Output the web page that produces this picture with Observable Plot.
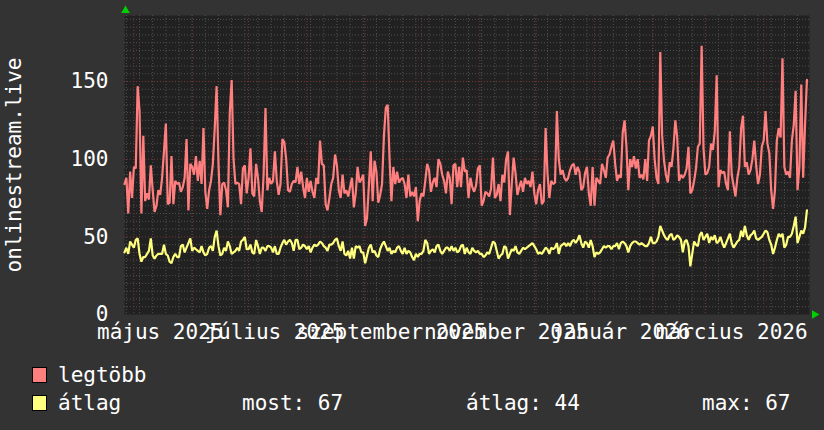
<!DOCTYPE html>
<html><head><meta charset="utf-8">
<script src="https://cdn.jsdelivr.net/npm/d3@7"></script>
<script src="https://cdn.jsdelivr.net/npm/@observablehq/plot@0.6"></script>
<style>
html,body{margin:0;padding:0;background:#333;}
#chart{position:relative;width:824px;height:430px;background:#333;font-family:"DejaVu Sans Mono",monospace;color:#fff;overflow:hidden}
#chart svg{display:block}
.leg{position:absolute;font-size:21px;line-height:21px;white-space:pre;color:#fff}
.sw{position:absolute;width:13px;height:14px;border:1px solid #000}
</style></head><body><div id="chart"></div>
<script>
// ---- data ----
const startDate = "2025-04-26";
const endDate = "2026-04-25T09:00Z";
const maxValues = [
84,88,65,92,75,95,94,147,131,65,115,73,78,74,96,80,66,70,80,77,
88,105,123,71,72,102,71,86,84,85,79,82,88,113,67,97,95,90,102,86,
99,84,120,79,68,80,86,97,120,147,97,64,84,85,80,69,130,151,100,84,
85,84,
71,94,96,78,88,107,78,76,97,88,73,66,90,133,80,88,84,86,105,86,
77,84,113,111,100,80,79,84,86,85,95,84,92,82,75,88,79,86,79,75,
88,84,112,97,96,71,67,75,84,88,103,96,80,75,90,78,80,76,82,88,69,
78,95,85,87,90,57,62,83,105,73,99,92,72,77,84,115,133,135,100,73,
95,84,92,85,87,88,84,75,90,76,79,76,82,60,73,78,76,86,97,93,
79,85,88,82,100,97,90,86,78,92,88,71,96,97,82,95,82,101,92,93,75,
88,82,79,83,94,96,70,73,79,78,76,81,101,75,77,84,73,90,85,100,
105,64,84,101,91,77,82,86,79,88,84,86,82,92,78,71,80,84,71,73,
120,91,75,86,84,85,131,100,90,93,88,86,88,93,96,97,90,95,92,80,82,
91,95,78,70,95,70,88,86,84,97,93,88,101,103,108,112,97,86,90,88,
117,125,108,80,100,95,102,94,100,88,90,87,100,86,112,115,121,100,88,84,
169,115,99,90,85,98,95,107,125,114,86,90,88,90,94,108,78,80,86,94,108,
110,173,107,90,91,95,110,106,118,154,82,93,91,92,84,80,118,90,83,76,
88,95,120,128,95,98,90,93,100,112,96,84,90,108,112,131,110,104,80,68,
80,112,120,114,165,95,90,92,88,112,122,144,80,95,148,88,122,151
];
const avgValues = [
40,43,39,47,45,43,48,49,39,34,37,37,39,41,49,38,36,38,39,39,
39,45,39,38,34,33,37,39,37,37,44,45,40,43,46,49,41,43,42,41,
40,44,40,38,39,43,44,41,50,54,44,38,39,43,41,47,44,39,40,41,
43,41,
47,48,50,42,42,45,40,39,48,44,39,43,43,41,44,44,43,40,44,39,
39,43,46,48,45,47,48,46,41,48,48,42,43,45,44,42,44,40,43,45,
44,45,47,46,44,43,41,45,45,46,48,49,44,41,47,39,38,41,36,43,36,
44,43,44,40,40,33,38,43,45,40,41,38,37,42,45,47,44,41,43,39,
41,40,43,44,41,39,43,39,41,40,37,35,39,37,39,39,41,48,46,39,
41,42,40,44,45,41,39,41,43,43,41,44,41,43,40,41,44,45,39,43,40,
39,43,41,40,41,39,39,37,38,40,39,43,47,46,41,36,38,39,44,43,
36,39,42,41,44,40,39,41,43,42,43,44,45,46,44,42,39,40,39,41,
43,42,39,43,42,43,46,39,44,45,46,44,46,44,47,48,46,48,51,46,43,
47,46,43,48,44,37,40,39,40,42,44,43,44,44,42,44,44,46,42,46,
47,46,44,40,44,46,47,47,46,45,46,45,44,44,46,50,46,46,47,50,
57,54,51,49,48,51,52,48,49,51,50,48,40,47,48,44,31,39,47,45,44,
51,53,48,50,52,46,50,48,51,46,47,50,46,43,46,49,52,46,43,45,
47,48,54,50,57,51,48,51,52,54,49,48,49,50,52,54,53,48,45,39,
43,48,52,50,52,43,45,50,50,52,57,63,46,50,54,52,56,67
];
const yTicks = [0, 50, 100, 150];
const yMax = 192.5;
const xLabelDates = ["2025-05-15","2025-07-15","2025-09-15","2025-11-15","2026-01-15","2026-03-15"];
const xLabels = ["május 2025","július 2025","szeptember 2025","november 2025","január 2026","március 2026"];
const yTitle = "onlinestream.live";
const seriesNames = ["legtöbb", "átlag"];
const seriesColors = ["#ff7f7f", "#ffff7f"];
const statLabels = ["most:", "átlag:", "max:"];
const statValues = [67, 44, 67];

// ---- build ----
const t0 = new Date(startDate + "T00:00Z");
const t1 = new Date(endDate);
const rows = maxValues.map((v, i) => ({date: d3.utcDay.offset(t0, i), max: v, avg: avgValues[i]}));
const minorY = d3.range(5, yMax, 5).filter(v => v % 50 !== 0);
const majorY = d3.range(50, yMax, 50);
const weekLines = d3.utcSunday.range(t0, t1);
const monthLines = d3.utcMonth.range(d3.utcDay.offset(t0, 1), t1);
const labelMap = new Map(xLabelDates.map((d, i) => [+new Date(d + "T00:00Z"), xLabels[i]]));
const FS = 21;

const chart = Plot.plot({
  width: 824, height: 350,
  marginLeft: 124, marginRight: 15, marginTop: 15, marginBottom: 36,
  style: {background: "transparent", color: "#fff", fontFamily: "DejaVu Sans Mono", fontSize: FS + "px", overflow: "visible"},
  x: {type: "utc", domain: [t0, t1]},
  y: {domain: [0, yMax]},
  marks: [
    Plot.frame({fill: "#212121", stroke: null}),
    Plot.ruleY(minorY, {stroke: "#505050", strokeWidth: 1, strokeDasharray: "1,2"}),
    Plot.ruleX(weekLines, {stroke: "#505050", strokeWidth: 1, strokeDasharray: "1,2"}),
    Plot.ruleY(majorY, {stroke: "#7a3434", strokeWidth: 1, strokeDasharray: "1,2"}),
    Plot.ruleX(monthLines, {stroke: "#7a3434", strokeWidth: 1, strokeDasharray: "1,2"}),
    Plot.line(rows, {x: "date", y: "max", stroke: seriesColors[0], strokeWidth: 2.2, strokeLinejoin: "miter"}),
    Plot.line(rows, {x: "date", y: "avg", stroke: seriesColors[1], strokeWidth: 2.2, strokeLinejoin: "miter"}),
    Plot.axisY({ticks: yTicks, tickSize: 0, tickPadding: 16, fontSize: FS, label: null, tickFormat: d => String(d)}),
    Plot.axisX({ticks: xLabelDates.map(d => new Date(d + "T00:00Z")), tickSize: 0, tickPadding: 10, fontSize: FS, label: null, tickFormat: d => labelMap.get(+d)}),
    Plot.text([yTitle], {frameAnchor: "left", dx: -110, rotate: -90, fontSize: FS, fill: "#fff", textAnchor: "middle", lineAnchor: "middle"}),
    Plot.dot([0], {frameAnchor: "top-left", symbol: "triangle", r: 3.2, fill: "#00d000", stroke: null, dx: 1, dy: -5}),
    Plot.dot([0], {frameAnchor: "bottom-right", symbol: "triangle", r: 3.2, fill: "#00d000", stroke: null, rotate: 90, dx: 5, dy: 0})
  ]
});
const root = document.getElementById("chart");
root.appendChild(chart);

function addText(txt, left, top) {
  const d = document.createElement("div");
  d.className = "leg"; d.textContent = txt;
  d.style.left = left + "px"; d.style.top = top + "px";
  root.appendChild(d);
}
function addSwatch(color, left, top) {
  const d = document.createElement("div");
  d.className = "sw"; d.style.background = color;
  d.style.left = left + "px"; d.style.top = top + "px";
  root.appendChild(d);
}
const rowTops = [365, 393];
seriesNames.forEach((name, i) => {
  addSwatch(seriesColors[i], 32, rowTops[i] + 2);
  addText(name, 58, rowTops[i]);
});
const statLefts = [242, 466, 702];
statLabels.forEach((lab, i) => addText(lab + " " + statValues[i], statLefts[i], rowTops[1]));
</script></body></html>
